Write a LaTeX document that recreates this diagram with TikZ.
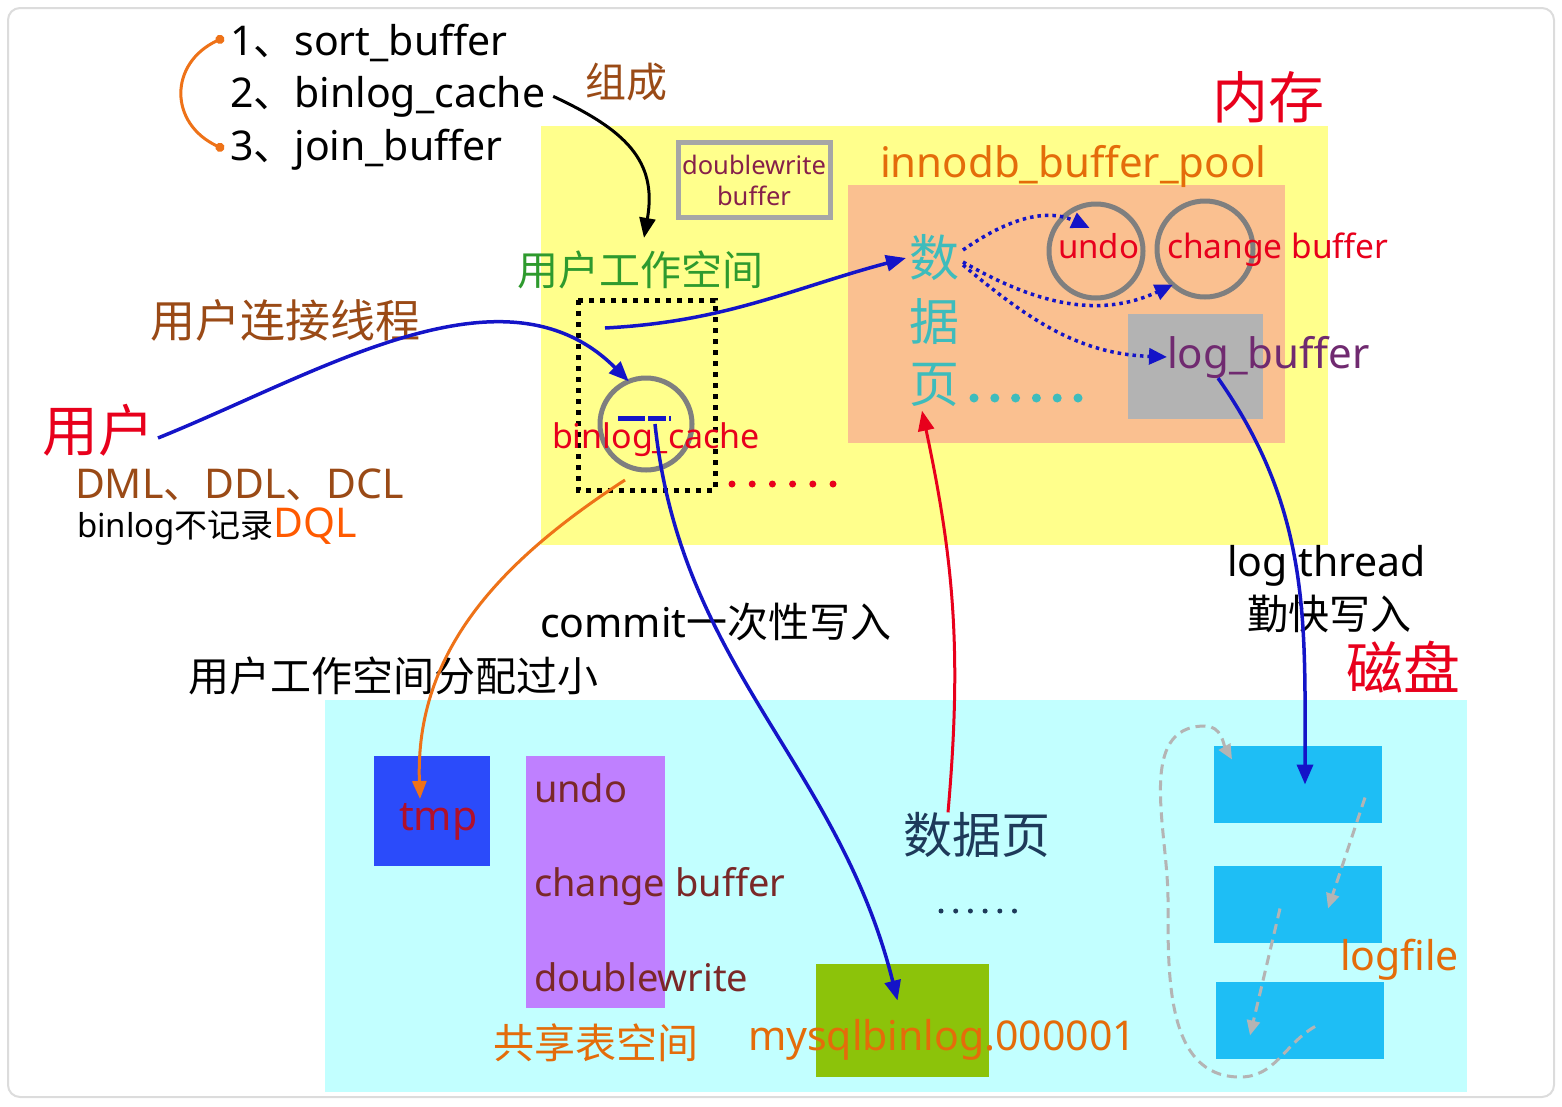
\documentclass[tikz,border=0pt]{standalone}
\usepackage{fontspec}
\setmainfont{Noto Sans}
\newfontfamily\cjk{Noto Sans CJK SC}
\usetikzlibrary{arrows.meta}
\definecolor{memyellow}{HTML}{FFFF8C}
\definecolor{poolorange}{HTML}{FAC090}
\definecolor{loggray}{HTML}{B3B3B3}
\definecolor{diskcyan}{HTML}{C2FFFF}
\definecolor{tmpblue}{HTML}{2B4BFA}
\definecolor{sharepurple}{HTML}{BF80FF}
\definecolor{binloggreen}{HTML}{8CC30A}
\definecolor{logfileblue}{HTML}{1EBEF5}
\definecolor{ringgray}{HTML}{7F7F7F}
\definecolor{boxgray}{HTML}{A6A6A6}
\definecolor{framegray}{HTML}{DCDCDC}
\definecolor{arrblue}{HTML}{1414C8}
\definecolor{arcorange}{HTML}{EE7218}
\definecolor{arrred}{HTML}{E8001C}
\definecolor{dashgray}{HTML}{B4B4B4}
\definecolor{redc}{HTML}{E8001C}
\definecolor{brownc}{HTML}{9A4A16}
\definecolor{orangec}{HTML}{E46C0A}
\definecolor{greenc}{HTML}{2E9A2E}
\definecolor{tealc}{HTML}{3EBCBC}
\definecolor{purplec}{HTML}{702A70}
\definecolor{maroonc}{HTML}{86204A}
\definecolor{darkredc}{HTML}{7A2828}
\definecolor{tmpred}{HTML}{B0102A}
\definecolor{navyc}{HTML}{1E3A5A}
\definecolor{dqlorange}{HTML}{FF5A00}
\newcommand\fsz[1]{\fontsize{#1}{#1}\selectfont}
\begin{document}
\begin{tikzpicture}[x=1pt,y=-1pt,inner sep=0pt,outer sep=0pt,
txt/.style={anchor=base west,font=\fsz{41}},
cjktxt/.style={anchor=west,font=\cjk\fsz{41}},
ring/.style={draw=ringgray,circle,line width=5pt},
bluearr/.style={-{Triangle[length=20pt,width=16pt]},draw=arrblue,line width=3.5pt},
dotarr/.style={-{Triangle[length=18pt,width=16pt]},draw=arrblue,line width=3.5pt,dash pattern=on 3.5pt off 4pt},
grayarr/.style={-{Triangle[length=15pt,width=13pt]},draw=dashgray,line width=3pt,dash pattern=on 10pt off 6pt},
dotrow/.style={line cap=round,dash pattern=on 0pt off #1}]
\useasboundingbox (0,0) rectangle (1562,1106);
\draw[draw=framegray,line width=2pt,rounded corners=12pt,fill=white] (8,8) rectangle (1554,1097);
\fill[memyellow] (541,126) rectangle (1328,545);
\fill[poolorange] (848,185) rectangle (1285,443);
\fill[loggray] (1128,314) rectangle (1263,419);
\fill[diskcyan] (325,700) rectangle (1467,1092);

\draw (230,55) node[txt] (sortbuf) {1{\cjk 、}sort\_buffer};
\draw (230,107) node[txt] (binlogcache) {2{\cjk 、}binlog\_cache};
\draw (230,160) node[txt] (joinbuf) {3{\cjk 、}join\_buffer};
\draw (585,82) node[cjktxt,text=brownc] (zucheng) {组成};
\draw (1212,97) node[cjktxt,font=\cjk\fsz{56},text=redc] (neicun) {内存};
\draw (880,177) node[txt,font=\fsz{42},text=orangec] (pooltxt) {innodb\_buffer\_pool};
\draw (754,180) node[draw=boxgray,line width=5pt,minimum width=152pt,minimum height=75pt,align=center,font=\fontsize{25.5}{31}\selectfont,text=maroonc] (dwbuf) {doublewrite\\buffer};
\draw (517,270) node[cjktxt,text=greenc] (workspace) {用户工作空间};
\draw[line width=5pt,dash pattern=on 5pt off 6pt] (578,300) rectangle (715,490);
\draw (646,424) node[ring,minimum size=92pt] (bc) {};
\draw[draw=arrblue,line width=5pt,dash pattern=on 27pt off 3pt on 18pt off 3pt on 3pt off 9pt] (618,418) -- (671,418);
\draw (552,448) node[txt,font=\fsz{34},text=redc] (bctxt) {binlog\_cache};
\draw[redc,line width=7pt,dotrow=20.2pt] (732,484) -- (836,484);

\draw (42,430) node[cjktxt,font=\cjk\fsz{56},text=redc] (user) {用户};
\draw (150,320) node[cjktxt,font=\cjk\fsz{45},text=brownc] (conn) {用户连接线程};
\draw (75,498) node[txt,text=brownc] (dml) {DML{\cjk 、}DDL{\cjk 、}DCL};
\draw (77,537) node[txt,font=\fsz{33}] (nodql) {binlog{\cjk 不记录}{\color{dqlorange}\fsz{41}DQL}};

\draw (934,258) node[font=\cjk\fsz{50},text=tealc] (shu) {数};
\draw (934,322) node[font=\cjk\fsz{50},text=tealc] (ju) {据};
\draw (934,385) node[font=\cjk\fsz{50},text=tealc] (ye) {页};
\draw[tealc,line width=9pt,dotrow=20.8pt] (974,398) -- (1082,398);
\draw (1096,251) node[ring,minimum size=94pt] (undoc) {};
\draw (1205,249) node[ring,minimum size=96pt] (cbc) {};
\draw (1058,258) node[txt,font=\fsz{33},text=redc] (undotxt) {undo};
\draw (1167,258) node[txt,font=\fsz{33.5},text=redc] (cbtxt) {change buffer};
\draw (1167,368) node[txt,font=\fsz{42},text=purplec] (lbtxt) {log\_buffer};

\draw (540,637) node[txt] (commit) {commit{\cjk 一次性写入}};
\draw (188,676) node[cjktxt] (small) {用户工作空间分配过小};
\draw (1227,576) node[txt] (logthread) {log thread};
\draw (1247,614) node[cjktxt] (qinkuai) {勤快写入};
\draw (1346,667) node[cjktxt,font=\cjk\fsz{57},text=redc] (cipan) {磁盘};

\draw (432,811) node[fill=tmpblue,minimum width=116pt,minimum height=110pt] (tmpbox) {};
\draw (399,830) node[txt,text=tmpred] (tmptxt) {tmp};
\draw (595.5,882) node[fill=sharepurple,minimum width=139pt,minimum height=252pt] (sharebox) {};
\draw (534,802) node[txt,font=\fsz{38},text=darkredc] (undosp) {undo};
\draw (534,896) node[txt,font=\fsz{38},text=darkredc] (cbsp) {change buffer};
\draw (534,991) node[txt,font=\fsz{38},text=darkredc] (dwsp) {doublewrite};
\draw (493,1043) node[cjktxt,text=orangec] (shared) {共享表空间};
\draw (902.5,1020.5) node[fill=binloggreen,minimum width=173pt,minimum height=113pt] (gb) {};
\draw (748,1050) node[txt,text=orangec] (binfile) {mysqlbinlog.000001};
\draw (903,835) node[cjktxt,font=\cjk\fsz{49},text=navyc] (dsp) {数据页};
\draw[navyc,line width=5pt,dotrow=14.7pt] (941,911) -- (1016,911);
\draw (1298,784.5) node[fill=logfileblue,minimum width=168pt,minimum height=77pt] (lf1) {};
\draw (1298,904.5) node[fill=logfileblue,minimum width=168pt,minimum height=77pt] (lf2) {};
\draw (1300,1020.5) node[fill=logfileblue,minimum width=168pt,minimum height=77pt] (lf3) {};
\draw (1340,970) node[txt,text=orangec] (logfile) {logfile};

\draw[arcorange,line width=3pt,{Circle[length=9pt]}-{Circle[length=9pt]}] ([xshift=-6pt,yshift=5pt]sortbuf.west) to[out=205,in=155,looseness=1.4] ([xshift=-6pt]joinbuf.west);
\draw[-{Triangle[length=20pt,width=16pt]},line width=3pt] ([xshift=8pt]binlogcache.east) to[out=-25,in=80,looseness=1.2] ([xshift=4pt,yshift=13pt]workspace.north);
\draw[bluearr] ([xshift=4pt,yshift=-8pt]user.east) to[out=22,in=135,looseness=0.95] (bc.112);
\coordinate (wsout) at (605,328);
\draw[bluearr] (wsout) to[out=3,in=195] ([xshift=-3pt]shu.west);
\draw[dotarr] ([xshift=4pt,yshift=8pt]shu.east) to[out=35,in=155] ([xshift=-9pt,yshift=5pt]undotxt.north);
\draw[dotarr] ([xshift=4pt,yshift=-4pt]shu.east) to[out=-30,in=205] (cbc.228);
\draw[dotarr] ([xshift=4pt,yshift=-7pt]shu.east) to[out=-40,in=178] (lbtxt.west);
\draw[bluearr] ([xshift=51pt]lbtxt.south west) to[out=-55,in=90] ([xshift=7pt]lf1.center);
\coordinate (bcout) at (625,480);
\draw[-{Triangle[length=18pt,width=14pt]},draw=arcorange,line width=3pt] (bcout) to[out=213,in=92] ([xshift=-12pt,yshift=12pt]tmpbox.center);
\draw[bluearr] ([xshift=9pt]bc.center) to[out=-84,in=104] ([xshift=-5pt,yshift=20pt]gb.center);
\draw[-{Triangle[length=20pt,width=16pt]},draw=arrred,line width=3pt] ([xshift=45pt]dsp.north west) to[out=85,in=-78] ([xshift=-12pt,yshift=-4pt]ye.south);
\draw[grayarr] ([xshift=67pt,yshift=-13pt]lf1.center) -- ([xshift=30pt,yshift=-4pt]lf2.center);
\draw[grayarr] ([xshift=-18pt,yshift=-4pt]lf2.center) -- ([xshift=-50pt,yshift=-15pt]lf3.center);
\draw[grayarr] ([xshift=15pt,yshift=-6pt]lf3.center) to[out=210,in=0] (1240,1077) to[out=180,in=-90] (1168,900) to[out=90,in=180] (1205,726) to[out=0,in=120] ([xshift=-66pt,yshift=25pt]lf1.center);
\end{tikzpicture}
\end{document}
